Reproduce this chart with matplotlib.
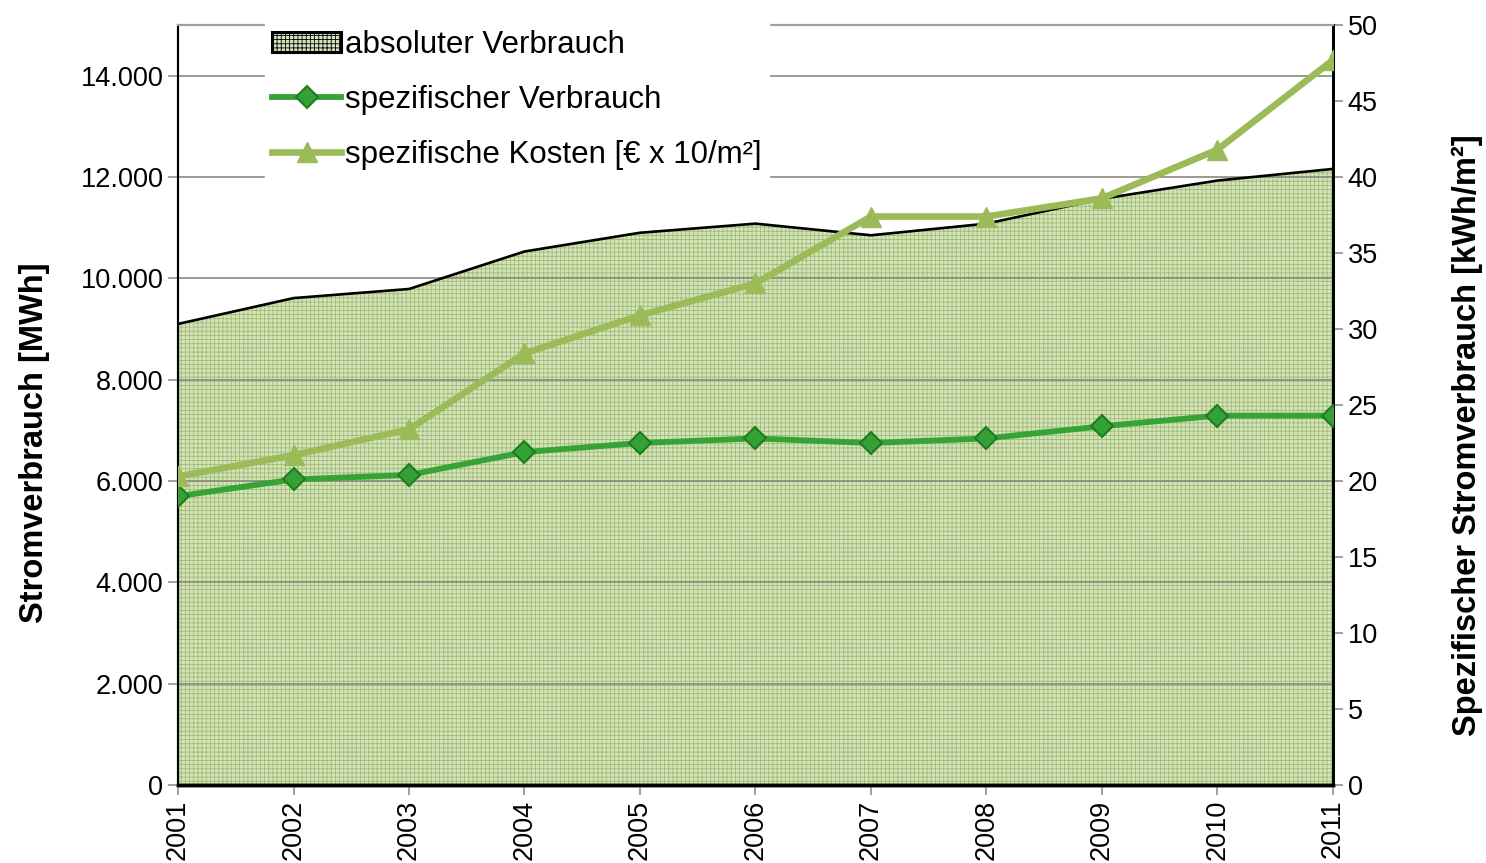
import matplotlib.pyplot as plt
from matplotlib.ticker import FuncFormatter
from matplotlib.patches import Patch

# Daten
jahre = [2001, 2002, 2003, 2004, 2005, 2006, 2007, 2008, 2009, 2010, 2011]
absolut_mwh = [9100, 9610, 9790, 10530, 10900, 11080, 10850, 11080, 11570, 11930, 12160]
spez_verbrauch = [19.0, 20.1, 20.4, 21.9, 22.5, 22.8, 22.5, 22.8, 23.6, 24.3, 24.3]
spez_kosten = [20.3, 21.7, 23.4, 28.4, 30.9, 33.0, 37.4, 37.4, 38.6, 41.8, 47.7]

plt.rcParams['font.family'] = ['Liberation Sans', 'DejaVu Sans']
plt.rcParams['hatch.color'] = '#9fbc72'
plt.rcParams['hatch.linewidth'] = 0.6

fig = plt.figure(figsize=(14.86, 8.63), dpi=100)
ax = fig.add_axes([0.1198, 0.0904, 0.7772, 0.8806])
ax2 = ax.twinx()

# Flaeche absoluter Verbrauch
ax.fill_between(jahre, absolut_mwh, 0, facecolor='#d5e3bd', hatch='++++',
                edgecolor='#9fbc72', linewidth=0, zorder=1)
ax.plot(jahre, absolut_mwh, color='black', lw=1.9, zorder=3)

ax.set_xlim(jahre[0], jahre[-1])
ax.set_ylim(0, 15000)
ax.set_yticks(range(0, 15000, 2000))
ax.yaxis.set_major_formatter(FuncFormatter(lambda v, p: f"{int(v):,}".replace(",", ".")))
ax.set_xticks(jahre)
ax.set_xticklabels([str(j) for j in jahre], rotation=90)
ax.grid(axis='y', color='#8a8a80', lw=1.2, zorder=2)
ax.set_axisbelow(False)
ax.tick_params(axis='both', labelsize=19.5, colors='#909090', labelcolor='black',
               length=7, width=1.2)
ax.set_ylabel('Stromverbrauch [MWh]', fontsize=23.5, fontweight='bold')
ax.yaxis.set_label_coords(-0.111, 0.451)

# Linien auf rechter Achse
ax2.plot(jahre, spez_verbrauch, color='#36a336', lw=4.2, marker='D', ms=11,
         mfc='#35a035', mec='#1d7d1d', mew=1.5, zorder=4, label='spezifischer Verbrauch')
ax2.plot(jahre, spez_kosten, color='#9bbb59', lw=4.8, marker='^', ms=15,
         mfc='#9bbb59', mec='#9bbb59', zorder=5, label='spezifische Kosten [€ x 10/m²]')
ax2.set_ylim(0, 50)
ax2.set_yticks(range(0, 51, 5))
ax2.tick_params(axis='y', labelsize=19.5, colors='#909090', labelcolor='black',
                length=7, width=1.2)
ax2.set_ylabel('Spezifischer Stromverbrauch [kWh/m²]', fontsize=23.5,
               fontweight='bold')
ax2.yaxis.set_label_coords(1.103, 0.46)

for a in (ax, ax2):
    a.spines['top'].set_color('#a0a0a0')
    a.spines['top'].set_linewidth(1.5)
    a.spines['left'].set_linewidth(1.5)
    a.spines['right'].set_linewidth(2)
    a.spines['bottom'].set_linewidth(2.5)

# Legende
flaeche = Patch(facecolor='#d5e3bd', hatch='++++', edgecolor='black', lw=2.2,
                label='absoluter Verbrauch')
h, l = ax2.get_legend_handles_labels()
leg = ax2.legend([flaeche] + h, ['absoluter Verbrauch'] + l, loc='upper left',
                 bbox_to_anchor=(0.075, 1.004), fontsize=22.5, frameon=True,
                 framealpha=1, edgecolor='white', fancybox=False,
                 handlelength=2.2, handleheight=0.6, handletextpad=0.12,
                 labelspacing=0.8, borderpad=0.25, borderaxespad=0.0)
leg.set_zorder(10)

fig.savefig('out.png', dpi=100)
